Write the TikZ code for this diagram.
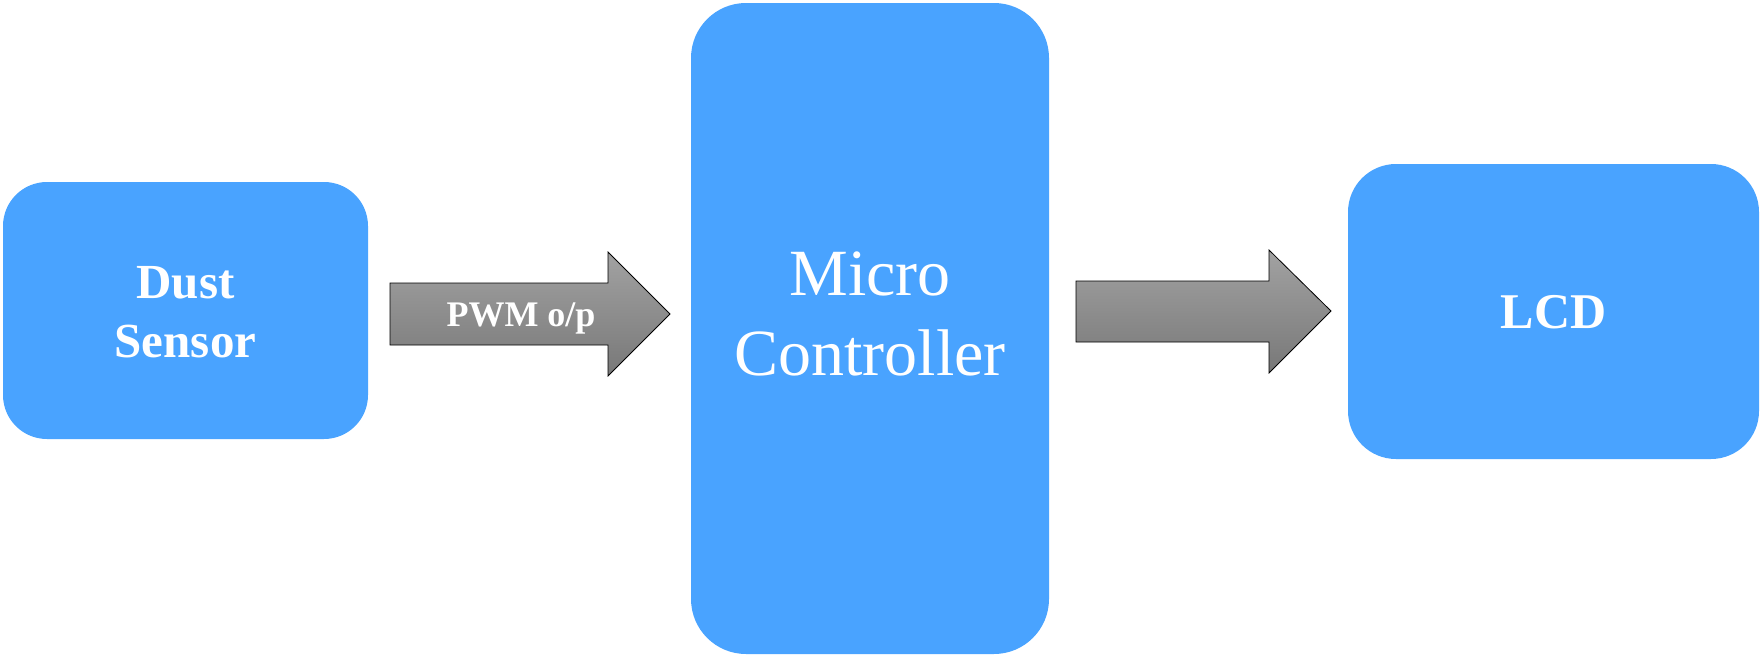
\documentclass[tikz,border=0pt]{standalone}
\usepackage{fontspec}
\setmainfont{Liberation Serif}
\definecolor{boxblue}{RGB}{73,163,255}
\definecolor{arrtop}{RGB}{162,162,162}
\definecolor{arrbot}{RGB}{120,120,120}
\begin{document}
\begin{tikzpicture}[x=1pt,y=-1pt,
  block/.style={fill=boxblue,draw=none,inner sep=0pt},
  lbl/.style={text=white,inner sep=0pt,anchor=base},
  blockarrow/.style={draw=black,line width=0.8pt,top color=arrtop,bottom color=arrbot,line join=miter}]
\useasboundingbox (0,0) rectangle (1764,659);
% blocks
\node[block,rounded corners=44pt,minimum width=365pt,minimum height=257pt] (dust) at (185.5,310.5) {};
\node[block,rounded corners=55pt,minimum width=358pt,minimum height=651pt] (mc) at (870,328.5) {};
\node[block,rounded corners=48pt,minimum width=411pt,minimum height=295pt] (lcd) at (1553.5,311.5) {};
% texts
\node[lbl,font=\fontsize{49}{59}\selectfont\bfseries] (dust1) at (185.5,298) {Dust};
\node[lbl,font=\fontsize{49}{59}\selectfont\bfseries] (dust2) at (185.5,357) {Sensor};
\node[lbl,font=\fontsize{66}{80}\selectfont] (mc1) at (870,295) {Micro};
\node[lbl,font=\fontsize{66}{80}\selectfont] (mc2) at (870,375) {Controller};
\node[lbl,font=\fontsize{50}{60}\selectfont\bfseries] (lcd1) at (1553.5,328) {LCD};
% block arrows
\coordinate (a1s) at (390,314);
\coordinate (a1t) at (670,314);
\draw[blockarrow] (390,283) -- (608,283) -- (608,252) -- (a1t) -- (608,376) -- (608,345) -- (390,345) -- cycle;
\node[lbl,font=\fontsize{36}{43}\selectfont\bfseries] (pwm) at (521,326) {PWM o/p};
\coordinate (a2s) at (1076,311);
\coordinate (a2t) at (1331,311);
\draw[blockarrow] (1076,281) -- (1269,281) -- (1269,250) -- (a2t) -- (1269,373) -- (1269,342) -- (1076,342) -- cycle;
\end{tikzpicture}
\end{document}
